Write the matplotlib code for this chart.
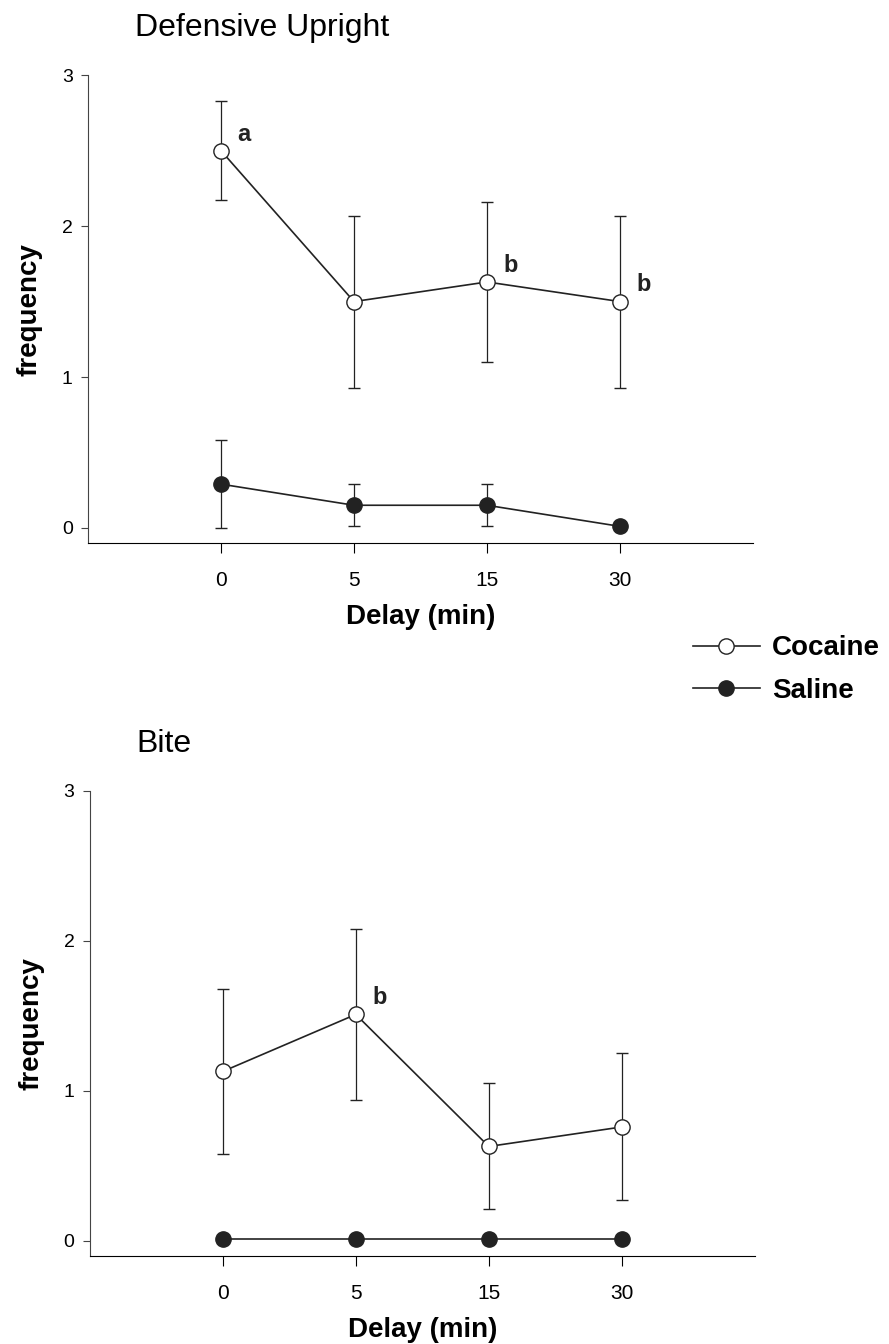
import matplotlib
matplotlib.use("Agg")
from matplotlib import pyplot as plt
from matplotlib.lines import Line2D

plt.rcParams['font.family'] = ['Liberation Sans', 'DejaVu Sans']

# datos
delays = ['0', '5', '15', '30']

up_coc = [2.50, 1.50, 1.63, 1.50]
up_coc_err = [0.33, 0.57, 0.53, 0.57]
up_sal = [0.29, 0.15, 0.15, 0.01]
up_sal_err = [0.29, 0.14, 0.14, 0.0]
up_letters = ['a', '', 'b', 'b']

bite_coc = [1.13, 1.51, 0.63, 0.76]
bite_coc_err = [0.55, 0.57, 0.42, 0.49]
bite_sal = [0.01, 0.01, 0.01, 0.01]
bite_sal_err = [0.0, 0.0, 0.0, 0.0]
bite_letters = ['', 'b', '', '']

groups = ['Cocaine', 'Saline']
face = ['white', '#222222']

fig = plt.figure(figsize=(8.89, 13.44), dpi=100)
ax1 = fig.add_axes([0.099, 0.596, 0.748, 0.348])
ax2 = fig.add_axes([0.101, 0.0655, 0.748, 0.346])


def panel(ax, coc, coc_err, sal, sal_err, letters, title):
    x = range(1, len(delays) + 1)
    for y, err, fc in [(coc, coc_err, face[0]), (sal, sal_err, face[1])]:
        ax.errorbar(x, y, yerr=err, color='#222222', lw=1.2, marker='o', ms=11,
                    mfc=fc, mec='#222222', mew=1.0, elinewidth=0.9, capsize=4,
                    capthick=0.9, zorder=3)
    for xi, yi, t in zip(x, coc, letters):
        if t:
            ax.annotate(t, (xi, yi), xytext=(12, 12), textcoords='offset points',
                        fontsize=17, fontweight='bold', color='#222222',
                        ha='left', va='center')
    ax.set_xlim(0, 5)
    ax.set_ylim(-0.1, 3)
    ax.set_xticks(list(x))
    ax.set_xticklabels(delays)
    ax.set_yticks([0, 1, 2, 3])
    ax.spines['top'].set_visible(False)
    ax.spines['right'].set_visible(False)
    ax.spines['left'].set_color('#444444')
    ax.tick_params(axis='y', labelsize=14, length=5, pad=6, color='#444444')
    ax.tick_params(axis='x', labelsize=15, length=7, pad=13)
    ax.set_xlabel('Delay (min)', fontsize=20, fontweight='bold', labelpad=10)
    ax.set_ylabel('frequency', fontsize=20, fontweight='bold', labelpad=14)
    ax.set_title(title, fontsize=23, loc='left', x=0.07, pad=28)


panel(ax1, up_coc, up_coc_err, up_sal, up_sal_err, up_letters, 'Defensive Upright')
panel(ax2, bite_coc, bite_coc_err, bite_sal, bite_sal_err, bite_letters, 'Bite')

# leyenda
handles = [Line2D([], [], color='#222222', lw=1.2, marker='o', ms=11, mfc=fc,
                  mec='#222222', mew=1.0) for fc in face]
fig.legend(handles, groups, loc='upper left', bbox_to_anchor=(0.764, 0.5375),
           frameon=False, prop={'size': 20, 'weight': 'bold'}, handlelength=2.4,
           handletextpad=0.45, labelspacing=0.6, borderpad=0)

plt.savefig('out.png', dpi=100)
